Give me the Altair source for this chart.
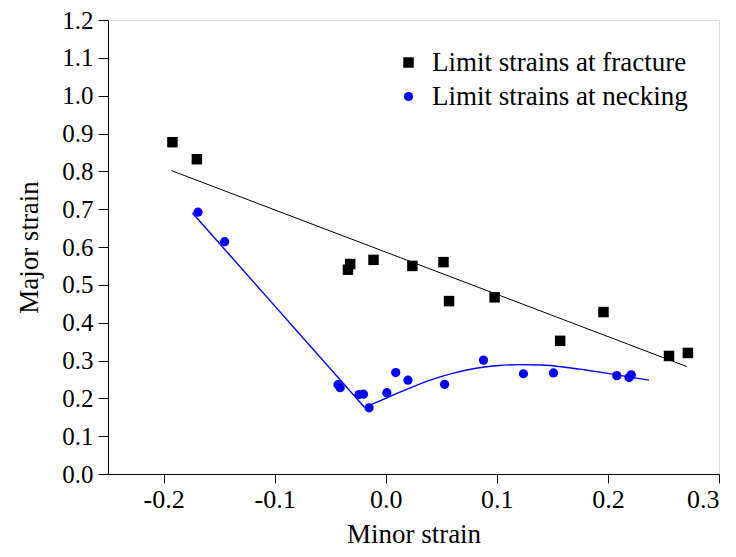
import altair as alt
import pandas as pd

# Limit strains at fracture (black squares)
frac_minor = [-0.192, -0.170, -0.034, -0.032, -0.011, 0.024, 0.052, 0.057, 0.098, 0.157, 0.196, 0.255, 0.272]
frac_major = [0.877, 0.832, 0.540, 0.555, 0.566, 0.550, 0.560, 0.457, 0.467, 0.352, 0.428, 0.312, 0.320]

# Limit strains at necking (blue circles)
neck_minor = [-0.169, -0.145, -0.043, -0.041, -0.024, -0.020, -0.015, 0.001, 0.009, 0.020, 0.053, 0.088, 0.124, 0.151, 0.208, 0.221, 0.219]
neck_major = [0.692, 0.614, 0.236, 0.228, 0.210, 0.211, 0.175, 0.215, 0.268, 0.248, 0.237, 0.301, 0.265, 0.267, 0.260, 0.262, 0.255]

# Linear fit through the fracture limits
fit_frac_x = [-0.193, 0.271]
fit_frac_y = [0.802, 0.284]

# Necking curve: straight left branch
neck_left_x = [-0.174, -0.019]
neck_left_y = [0.690, 0.176]
# Necking curve: right branch
neck_right_x = [-0.019, 0.0, 0.02, 0.04, 0.06, 0.08, 0.10, 0.12, 0.14, 0.16, 0.18, 0.20, 0.22, 0.237]
neck_right_y = [0.176, 0.200, 0.225, 0.248, 0.266, 0.279, 0.286, 0.289, 0.288, 0.283, 0.275, 0.266, 0.256, 0.248]

x_ticks = [-0.2, -0.1, 0.0, 0.1, 0.2, 0.3]
y_ticks = [0.0, 0.1, 0.2, 0.3, 0.4, 0.5, 0.6, 0.7, 0.8, 0.9, 1.0, 1.1, 1.2]

FRAC = "Limit strains at fracture"
NECK = "Limit strains at necking"

pts = pd.DataFrame({
    "minor": frac_minor + neck_minor,
    "major": frac_major + neck_major,
    "series": [FRAC] * len(frac_minor) + [NECK] * len(neck_minor),
})

FONT = "Liberation Serif"
LBL = "datum.value < 0 ? '-' + format(-datum.value, '.1f') : format(datum.value, '.1f')"

xscale = alt.Scale(domain=[-0.25, 0.3], nice=False, zero=False)
yscale = alt.Scale(domain=[0, 1.2], nice=False, zero=False)

xaxis = alt.Axis(title="Minor strain", values=x_ticks, labelExpr=LBL, labelOverlap=False,
                 grid=False, tickSize=9, tickColor="black", domainColor="black",
                 labelFont=FONT, labelFontSize=26, labelColor="black", labelPadding=3,
                 titleFont=FONT, titleFontSize=27, titleFontWeight="normal", titleColor="black",
                 titlePadding=9)
yaxis = alt.Axis(title="Major strain", values=y_ticks, labelExpr=LBL, labelOverlap=False,
                 labelBound=False, labelFlush=False,
                 grid=False, tickSize=10, tickColor="black", domainColor="black",
                 labelFont=FONT, labelFontSize=25, labelColor="black", labelPadding=5,
                 titleFont=FONT, titleFontSize=27, titleFontWeight="normal", titleColor="black",
                 titlePadding=18)

leg = alt.Legend(title=None, orient="none", legendX=287, legendY=29,
                 labelFont=FONT, labelFontSize=27, labelColor="black", labelLimit=500,
                 rowPadding=6, symbolOpacity=1, labelOffset=10)


def xenc(field):
    return alt.X(field, scale=xscale, axis=xaxis)


def yenc(field):
    return alt.Y(field, scale=yscale, axis=yaxis)


points = alt.Chart(pts).mark_point(filled=True, opacity=1).encode(
    x=xenc("minor:Q"),
    y=yenc("major:Q"),
    color=alt.Color("series:N", scale=alt.Scale(domain=[FRAC, NECK], range=["black", "#0000ff"]), legend=leg),
    shape=alt.Shape("series:N", scale=alt.Scale(domain=[FRAC, NECK], range=["square", "circle"]), legend=leg),
    size=alt.Size("series:N", scale=alt.Scale(domain=[FRAC, NECK], range=[110, 85]), legend=None),
)

fit1 = alt.Chart(pd.DataFrame({"x": fit_frac_x, "y": fit_frac_y})).mark_line(
    color="black", strokeWidth=1).encode(x=xenc("x:Q"), y=yenc("y:Q"))
fit2 = alt.Chart(pd.DataFrame({"x": neck_left_x, "y": neck_left_y})).mark_line(
    color="#0000ff", strokeWidth=1.4).encode(x=xenc("x:Q"), y=yenc("y:Q"))
fit3 = alt.Chart(pd.DataFrame({"x": neck_right_x, "y": neck_right_y})).mark_line(
    color="#0000ff", strokeWidth=1.4, interpolate="monotone").encode(x=xenc("x:Q"), y=yenc("y:Q"))

chart = alt.layer(fit1, fit2, fit3, points).properties(
    width=611, height=454,
    autosize=alt.AutoSizeParams(type="none"),
    padding={"left": 100, "top": 12, "right": 9, "bottom": 75},
).configure_view(stroke="black", strokeWidth=1).configure(background="white")

chart.save("out.html", embed_options={"renderer": "svg", "actions": False})
